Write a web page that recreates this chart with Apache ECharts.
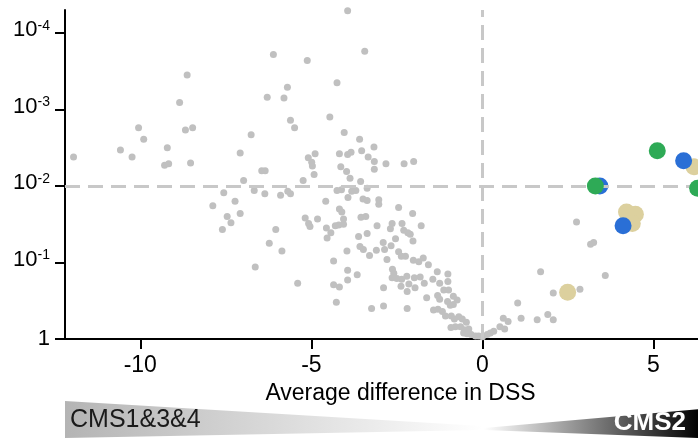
<!DOCTYPE html>
<html>
<head>
<meta charset="utf-8">
<script src="https://cdn.jsdelivr.net/npm/echarts@6/dist/echarts.min.js"></script>
<style>html,body{margin:0;padding:0;background:#fff}#c{width:698px;height:442px}</style>
</head>
<body>
<div id="c"></div>
<script>
// x = average difference in DSS, y = -log10(p)
const grayX = [-11.95,-10.58,-10.24,-10.05,-9.90,-9.21,-9.29,-9.17,-8.85,-8.63,-8.68,-8.47,-8.53,-7.08,-6.76,-6.98,-3.94,-6.11,-5.12,-3.44,-4.25,-5.70,-6.29,-5.80,-5.61,-5.49,-4.46,-4.04,-3.59,-3.17,-3.53,-3.34,-3.16,-3.16,-2.82,-2.29,-2.01,-5.09,-4.89,-4.99,-4.97,-4.92,-4.18,-3.94,-3.84,-4.14,-3.97,-6.45,-6.35,-5.24,-3.87,-3.56,
-7.56,-6.67,-6.36,-5.90,-5.69,-5.61,-4.25,-4.12,-3.93,-7.23,-7.88,-4.58,-7.08,-7.46,-7.35,-4.18,-4.11,-5.18,-4.82,-5.08,-5.04,-4.06,-4.30,-4.20,-4.06,-4.56,-4.43,-7.60,-6.04,-4.54,-3.82,-3.70,-3.37,-3.49,-3.37,-3.03,-3.03,-2.45,-2.04,-3.55,-3.41,-3.08,-2.64,-2.69,-2.35,-2.30,-2.18,-1.79,-2.11,-3.37,-3.62,-2.54,
-6.23,-5.86,-6.64,-5.40,-2.03,-3.58,-3.48,-3.96,-3.30,-2.90,-2.86,-2.79,-3.10,-2.67,-2.45,-2.37,-2.25,-4.35,-3.94,-3.94,-3.66,-4.35,-4.18,-4.27,-3.24,-2.89,-2.89,-2.20,-2.63,-2.59,-2.64,-2.50,-2.36,-2.21,-2.38,-2.20,-2.15,-1.99,-1.97,-1.82,-2.02,-1.73,-1.86,-1.58,-1.32,-1.01,-1.70,-1.45,-1.25,-1.01,-1.63,-1.31,-1.25,-1.13,-0.99,-0.85,-0.74,-1.02,-0.94,-1.43,-1.30,-1.17,-1.08,-0.85,-0.91,-0.82,-0.69,-0.59,-0.47,-0.92,-0.79,-0.64,-0.53,-0.40,-0.45,-0.33,-0.20,-0.11,-0.55,
2.75,3.16,3.25,1.70,3.59,2.07,2.85,1.03,1.13,1.60,1.91,2.07,0.61,0.75,0.51,0.65,0.33,0.23,0.14,0.00];
const grayY = [2.38,2.47,2.38,2.76,2.61,2.50,2.27,2.29,3.09,3.45,2.73,2.76,2.30,2.43,2.67,2.07,4.29,3.72,3.64,3.76,3.35,3.29,3.16,3.15,2.86,2.76,2.90,2.70,2.61,2.51,2.46,2.38,2.32,2.22,2.29,2.29,2.32,2.37,2.42,2.31,2.26,2.15,2.42,2.41,2.44,2.25,2.19,2.20,2.20,2.07,2.10,2.06,
1.91,1.94,1.90,1.88,1.93,1.90,1.94,1.95,1.85,1.80,1.74,1.80,1.64,1.60,1.52,1.70,1.66,1.58,1.57,1.51,1.47,1.57,1.48,1.49,1.50,1.45,1.39,1.43,1.43,1.32,1.93,1.94,1.97,1.83,1.81,1.82,1.76,1.72,1.64,1.59,1.60,1.48,1.51,1.44,1.51,1.42,1.39,1.48,1.37,1.38,1.34,1.31,
1.25,1.15,0.94,0.73,1.28,1.21,1.17,1.15,1.09,1.26,1.17,1.04,1.16,1.22,1.14,1.08,1.08,1.02,0.90,0.77,0.84,0.71,0.68,0.48,0.40,0.43,0.67,0.40,0.91,0.86,0.80,0.79,0.78,0.82,0.69,0.62,0.72,0.80,0.67,0.81,1.03,1.06,1.01,0.97,0.88,0.85,0.73,0.78,0.73,0.75,0.54,0.57,0.52,0.64,0.64,0.56,0.51,0.49,0.44,0.38,0.39,0.36,0.30,0.45,0.30,0.26,0.29,0.26,0.22,0.15,0.16,0.16,0.12,0.13,0.07,0.06,0.04,0.04,0.08,
1.53,1.24,1.26,0.88,0.83,0.60,0.65,0.47,0.27,0.25,0.32,0.25,0.27,0.23,0.16,0.13,0.10,0.08,0.06,0.03];
const tanX = [2.49,4.21,4.47,4.38,6.18];
const tanY = [0.61,1.66,1.63,1.51,2.25];
const blueX = [4.11,3.43,5.88];
const blueY = [1.48,2.00,2.33];
const greenX = [3.30,5.11,6.29];
const greenY = [2.00,2.46,1.97];
const xTicks = [-10,-5,0,5];
const yTicks = [0,1,2,3,4];
const xTitle = 'Average difference in DSS';
const leftLabel = 'CMS1&3&4';
const rightLabel = 'CMS2';

const zip = (a,b) => a.map((v,i)=>[v,b[i]]);
const FONT = '"Liberation Sans", Arial, sans-serif';
const chart = echarts.init(document.getElementById('c'), null, {renderer:'canvas'});
chart.setOption({
  animation: false,
  backgroundColor: '#fff',
  grid: {left: 65, top: 10, bottom: 103, right: 0, containLabel: false},
  xAxis: {
    type: 'value', min: -12.2, max: 6.3,
    splitLine: {show: false},
    axisLine: {onZero: false, lineStyle: {color: '#000', width: 2}},
    axisTick: {customValues: xTicks, length: 10, lineStyle: {color: '#000', width: 2}},
    axisLabel: {customValues: xTicks, margin: 15, color: '#000', fontSize: 23, fontFamily: FONT},
    name: xTitle, nameLocation: 'middle', nameGap: 40,
    nameTextStyle: {color: '#000', fontSize: 23, fontFamily: FONT, padding: [0, 0, 0, 38]}
  },
  yAxis: {
    type: 'value', min: 0, max: 4.3,
    splitLine: {show: false},
    axisLine: {onZero: false, lineStyle: {color: '#000', width: 2}},
    axisTick: {customValues: yTicks, length: 10, lineStyle: {color: '#000', width: 2}},
    axisLabel: {
      customValues: yTicks, margin: 15, color: '#000', fontFamily: FONT,
      formatter: v => v === 0 ? '{o|1}' : '{b|10}{s|-' + v + '}',
      rich: {
        o: {fontSize: 22, fontFamily: FONT, color: '#000'},
        b: {fontSize: 22, fontFamily: FONT, color: '#000', verticalAlign: 'bottom', padding: [0,0,6,0]},
        s: {fontSize: 14, fontFamily: FONT, color: '#000', verticalAlign: 'top'}
      }
    }
  },
  series: [
    {
      type: 'scatter', data: [], z: 1, silent: true,
      markLine: {
        silent: true, symbol: ['none','none'], label: {show: false},
        lineStyle: {color: '#c8c8c8', width: 3, type: [15, 8]},
        data: [{xAxis: 0}, {yAxis: 2}]
      }
    },
    {type: 'scatter', data: zip(grayX, grayY), symbolSize: 7, itemStyle: {color: '#c0c0c0', opacity: 1}, z: 2},
    {type: 'scatter', data: zip(tanX, tanY), symbolSize: 17, itemStyle: {color: '#dcd09e', opacity: 1}, z: 3},
    {type: 'scatter', data: zip(blueX, blueY), symbolSize: 17, itemStyle: {color: '#2a6fd6', opacity: 1}, z: 4},
    {type: 'scatter', data: zip(greenX, greenY), symbolSize: 17, itemStyle: {color: '#2eaa56', opacity: 1}, z: 5}
  ],
  graphic: [
    {type: 'polygon', shape: {points: [[65,401],[482,426],[482,430],[65,438]]},
     style: {fill: new echarts.graphic.LinearGradient(0,0,1,0,[{offset:0,color:'#b4b4b4'},{offset:1,color:'#ffffff'}])}},
    {type: 'polygon', shape: {points: [[484,428],[700,409],[700,438],[484,430]]},
     style: {fill: new echarts.graphic.LinearGradient(0,0,1,0,[{offset:0,color:'#ffffff'},{offset:1,color:'#000000'}])}},
    {type: 'text', left: 70, top: 408, style: {text: leftLabel, fill: '#1a1a1a', font: '25px ' + FONT}},
    {type: 'text', right: 12, top: 410, style: {text: rightLabel, fill: '#fff', font: 'bold 26px ' + FONT}}
  ]
});
</script>
</body>
</html>
